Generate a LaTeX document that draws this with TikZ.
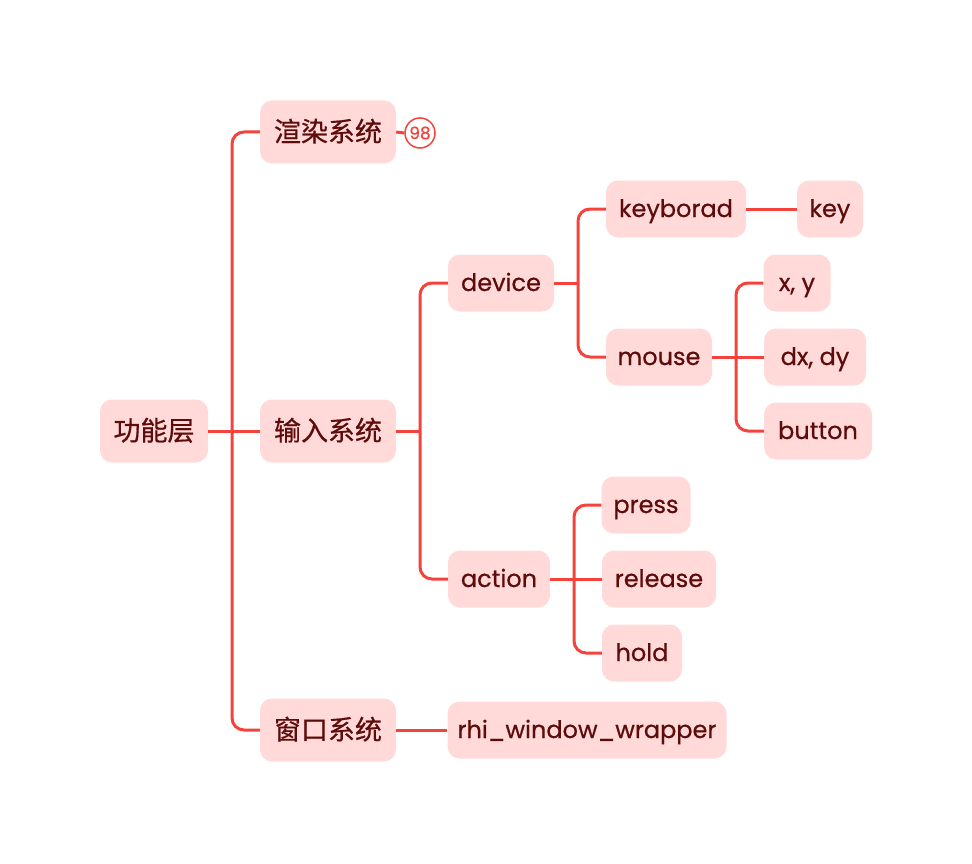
\documentclass[tikz,border=0pt]{standalone}
\usepackage{fontspec}
\setmainfont[FakeBold=0.6,AutoFakeBold=0.6]{Poppins}
\newfontfamily\cjk[FakeBold=0.6,AutoFakeBold=0.6]{Noto Sans CJK SC}
\usetikzlibrary{calc}
\definecolor{linec}{HTML}{F4433C}
\definecolor{boxc}{HTML}{FFDAD9}
\definecolor{txtc}{HTML}{5E0B0B}
\tikzset{
  box/.style={fill=boxc, rounded corners=12pt, text=txtc, inner sep=0pt, minimum height=57pt, text height=20pt, text depth=4pt, font=\bfseries\fontsize{24}{28}\selectfont},
  cbox/.style={box, minimum height=63pt, text height=22pt, text depth=3pt, font=\cjk\bfseries\fontsize{27}{30}\selectfont},
  conn/.style={draw=linec, line width=3pt, rounded corners=12pt},
  badge/.style={circle, draw=linec, line width=1.5pt, fill=white, text=linec, inner sep=0pt, minimum size=30pt, font=\fontsize{17}{17}\selectfont}
}
\begin{document}
\begin{tikzpicture}[x=1pt,y=-1pt]
\useasboundingbox (0,0) rectangle (972,864);
% nodes
\node[cbox, minimum width=108pt] (gn) at (154,431) {功能层};
\node[cbox, minimum width=136pt] (rend) at (328,132) {渲染系统};
\node[cbox, minimum width=136pt] (inp) at (328,431) {输入系统};
\node[cbox, minimum width=136pt] (win) at (328,730) {窗口系统};
\node[badge] (b98) at (420,133) {98};
\node[box, minimum width=106pt] (dev) at (501,283) {device};
\node[box, minimum width=102pt] (act) at (499,579) {action};
\node[box, minimum width=140pt] (kb) at (676,209) {keyborad};
\node[box, minimum width=106pt] (mouse) at (659,357) {mouse};
\node[box, minimum width=66pt] (key) at (830,209) {key};
\node[box, minimum width=67pt] (xy) at (797,283) {x, y};
\node[box, minimum width=102pt] (dxdy) at (815,357) {dx, dy};
\node[box, minimum width=108pt] (btn) at (818,431) {button};
\node[box, minimum width=89pt] (press) at (646,505) {press};
\node[box, minimum width=114pt] (rel) at (659,579) {release};
\node[box, minimum width=80pt] (hold) at (642,653) {hold};
\node[box, minimum width=279pt] (rhi) at (587,730) {rhi\_window\_wrapper};
% trunk coordinates
\coordinate (t1) at (232,431);
\coordinate (t2) at (420,431);
\coordinate (t3) at (578,283);
\coordinate (t4) at (736,357);
\coordinate (t5) at (574,579);
% connectors
\draw[conn] (rend.west) -- (rend.west -| t1) -- (win.west -| t1) -- (win.west);
\draw[conn] (gn.east) -- (inp.west);
\draw[conn] (rend.east) -- (b98.west);
\draw[conn] (dev.west) -- (dev.west -| t2) -- (act.west -| t2) -- (act.west);
\draw[conn] (inp.east) -- (t2);
\draw[conn] (kb.west) -- (kb.west -| t3) -- (mouse.west -| t3) -- (mouse.west);
\draw[conn] (dev.east) -- (t3);
\draw[conn] (kb.east) -- (key.west);
\draw[conn] (xy.west) -- (xy.west -| t4) -- (btn.west -| t4) -- (btn.west);
\draw[conn] (mouse.east) -- (dxdy.west);
\draw[conn] (press.west) -- (press.west -| t5) -- (hold.west -| t5) -- (hold.west);
\draw[conn] (act.east) -- (rel.west);
\draw[conn] (win.east) -- (rhi.west);
\end{tikzpicture}
\end{document}
